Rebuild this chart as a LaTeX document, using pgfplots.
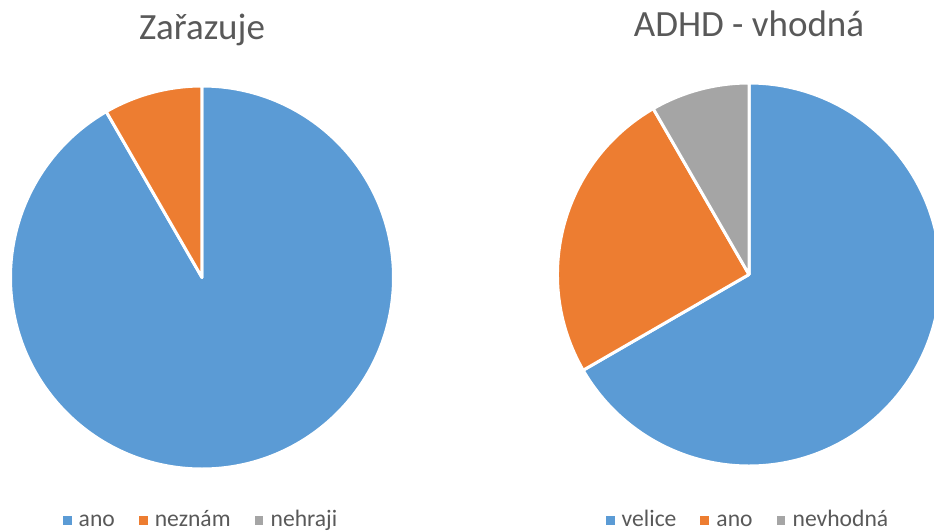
\documentclass[border=0pt]{standalone}
\usepackage{pgfplots}
\pgfplotsset{compat=1.18}
\usepackage{fontspec}
\setmainfont{Carlito}

\definecolor{pblue}{HTML}{5B9BD5}
\definecolor{porange}{HTML}{ED7D31}
\definecolor{pgray}{HTML}{A5A5A5}
\definecolor{txt}{HTML}{595959}

% one wedge: colour, from, to, total (counts, clockwise from 12 o'clock)
\newcommand{\slice}[4]{%
  \fill[#1, draw=white, line width=1.5pt, line join=round]
    (axis cs:0,0) -- ++({90-360*#2/#4}:95.75pt)
    arc[start angle={90-360*#2/#4}, end angle={90-360*#3/#4}, radius=95.75pt] -- cycle;}
\newcommand{\key}[1]{\addlegendimage{legend image code/.code={%
  \fill[#1, draw=none] (0pt,-1.7pt) rectangle (4.4pt,2.7pt);
  \path[draw=none, fill=none] (0pt,0pt) -- (6pt,0pt);}}}

\pgfplotsset{pie/.style={
  scale only axis, width=191.5pt, height=191.5pt,
  xmin=-1, xmax=1, ymin=-1, ymax=1,
  hide axis, clip=false, anchor=center,
  title style={at={(0.5,1.09)}, anchor=base, font=\fontsize{18.5}{22}\selectfont, text=txt},
  legend style={at={(0.5,-0.145)}, anchor=center, draw=none, fill=none,
    legend columns=-1, font=\fontsize{11.8}{14}\selectfont, text=txt,
    nodes={text height=1.5ex, text depth=0.45ex},
    /tikz/every even column/.append style={column sep=10pt}},
  legend cell align=left}}

\begin{document}
\begin{tikzpicture}
\useasboundingbox (0,0) rectangle (467pt,-265.5pt);

\begin{axis}[pie, at={(101pt,-138.75pt)}, title={Zařazuje},
    legend style={at={(0.5,-0.137)}}]
  \key{pblue}\addlegendentry{ano}
  \key{porange}\addlegendentry{neznám}
  \key{pgray}\addlegendentry{nehraji}
  % ano 11, neznám 1, nehraji 0
  \slice{pblue}{0}{11}{12}
  \slice{porange}{11}{12}{12}
\end{axis}

\begin{axis}[pie, at={(374.5pt,-137.25pt)}, title={ADHD - vhodná}]
  \key{pblue}\addlegendentry{velice}
  \key{porange}\addlegendentry{ano}
  \key{pgray}\addlegendentry{nevhodná}
  % velice 8, ano 3, nevhodná 1
  \slice{pblue}{0}{8}{12}
  \slice{porange}{8}{11}{12}
  \slice{pgray}{11}{12}{12}
\end{axis}
\end{tikzpicture}
\end{document}
